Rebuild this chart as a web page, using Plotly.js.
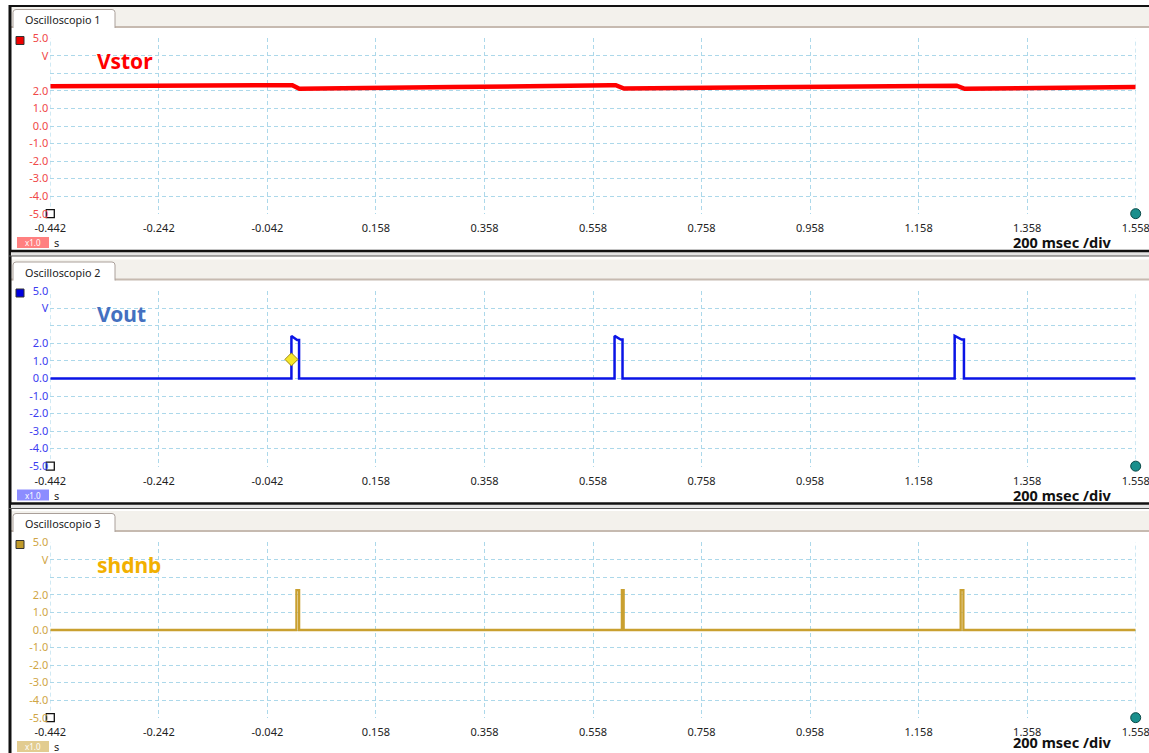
<!DOCTYPE html>
<html><head><meta charset="utf-8">
<script src="https://cdn.plot.ly/plotly-3.0.1.min.js"></script>
<style>html,body{margin:0;padding:0;background:#fff;overflow:hidden}#chart{width:1149px;height:753px}</style>
</head><body><div id="chart"></div>
<script>
// ---------- data ----------
const panelNames = ['Oscilloscopio 1', 'Oscilloscopio 2', 'Oscilloscopio 3'];
const signalNames = ['Vstor', 'Vout', 'shdnb'];
const xTickVals = [-0.442, -0.242, -0.042, 0.158, 0.358, 0.558, 0.758, 0.958, 1.158, 1.358, 1.558];
const xTickLabels = ['-0.442', '-0.242', '-0.042', '0.158', '0.358', '0.558', '0.758', '0.958', '1.158', '1.358', '1.558'];
const yTickVals = [-5, -4, -3, -2, -1, 0, 1, 2, 3, 4, 5];
const yTickLabels = ['-5.0', '-4.0', '-3.0', '-2.0', '-1.0', '0.0', '1.0', '2.0', '', 'V', '5.0'];
const xRange = [-0.442, 1.558];
const timeUnit = 's';
const scaleLabel = '200 msec /div';
const gainLabel = 'x1.0';

const vstorT = [-0.442, -0.2, -0.02, 0.004, 0.017, 0.06, 0.3, 0.59, 0.600, 0.615, 0.66, 0.9, 1.215, 1.228, 1.243, 1.29, 1.558];
const vstorV = [2.27, 2.29, 2.33, 2.33, 2.13, 2.14, 2.22, 2.33, 2.33, 2.14, 2.15, 2.22, 2.30, 2.30, 2.12, 2.13, 2.22];

const voutT = [-0.442, 0.0023, 0.0023, 0.0128, 0.0164, 0.0164, 0.5977, 0.5977, 0.609, 0.6124, 0.6124, 1.2244, 1.2244, 1.2375, 1.2415, 1.2415, 1.558];
const voutV = [0, 0, 2.43, 2.2, 2.2, 0, 0, 2.43, 2.22, 2.22, 0, 0, 2.43, 2.22, 2.22, 0, 0];

const shdnbT = [-0.442, 0.0115, 0.0115, 0.0165, 0.0165, 0.6112, 0.6112, 0.6145, 0.6145, 1.2355, 1.2355, 1.2405, 1.2405, 1.558];
const shdnbV = [0, 0, 2.28, 2.28, 0, 0, 2.28, 2.28, 0, 0, 2.28, 2.28, 0, 0];

const cursorT = [0.0023];
const cursorV = [1.09];
const startMarkerT = [-0.442], startMarkerV = [-5];
const endMarkerT = [1.558], endMarkerV = [-5];

// ---------- styling ----------
const W = 1149, H = 753;
const px = x => x / W;
const py = y => 1 - y / H;
const offsets = [0, 252.5, 504];
const lineColors = ['#ff0000', '#0a14e6', '#c9a030'];
const titleColors = ['#ff0000', '#4470c0', '#f2b000'];
const tickColors = ['#f04848', '#3c3cf0', '#d0a545'];
const squareColors = ['#ee0000', '#0000e0', '#c09a2a'];
const badgeColors = ['#ff8080', '#8c8cff', '#e2cc90'];
const lineWidths = [4.5, 2.5, 2.3];
const seriesT = [vstorT, voutT, shdnbT];
const seriesV = [vstorV, voutV, shdnbV];
const FONT = 'Noto Sans, Open Sans, sans-serif';
const GRID = '#acd8ea';
const GRIDDASH = '4px,3px';

const data = [];
const layout = {
  width: W, height: H, autosize: false,
  margin: {l: 0, r: 0, t: 0, b: 0, pad: 0},
  paper_bgcolor: '#ffffff', plot_bgcolor: 'rgba(0,0,0,0)',
  showlegend: false, hovermode: false,
  shapes: [], annotations: []
};

for (let i = 0; i < 3; i++) {
  const o = offsets[i];
  const xa = i === 0 ? 'x' : 'x' + (i + 1);
  const ya = i === 0 ? 'y' : 'y' + (i + 1);
  const xk = i === 0 ? 'xaxis' : 'xaxis' + (i + 1);
  const yk = i === 0 ? 'yaxis' : 'yaxis' + (i + 1);
  const top = 38 + o, bot = 214 + o;

  layout[xk] = {
    domain: [px(50.3), px(1135.7)], range: xRange, anchor: ya,
    tickmode: 'array', tickvals: xTickVals, ticktext: xTickLabels, ticklabeloverflow: 'allow',
    showgrid: true, gridcolor: GRID, griddash: GRIDDASH, gridwidth: 1,
    zeroline: false, showline: false, ticks: 'outside', ticklen: 4, tickcolor: 'rgba(0,0,0,0)',
    tickfont: {family: FONT, size: 11, color: '#222'}, fixedrange: true
  };
  layout[yk] = {
    domain: [py(bot), py(top)], range: [-5.02, 5.02], anchor: xa,
    tickmode: 'array', tickvals: yTickVals, ticktext: yTickLabels,
    showgrid: true, gridcolor: GRID, griddash: GRIDDASH, gridwidth: 1,
    zeroline: false, showline: false, ticks: '', ticklabelstandoff: 1,
    tickfont: {family: FONT, size: 11, color: tickColors[i]}, fixedrange: true
  };

  // vertical grid lines at the range edges
  xRange.forEach(xv => {
    layout.shapes.push({type: 'line', xref: xa, yref: ya, layer: 'below', x0: xv, x1: xv, y0: -5, y1: 5,
      line: {color: GRID, width: 1, dash: GRIDDASH}});
  });

  data.push({
    x: seriesT[i], y: seriesV[i], xaxis: xa, yaxis: ya, type: 'scatter', mode: 'lines',
    line: {color: lineColors[i], width: lineWidths[i]}, name: signalNames[i]
  });
  data.push({
    x: startMarkerT, y: startMarkerV, xaxis: xa, yaxis: ya, type: 'scatter', mode: 'markers', cliponaxis: false,
    marker: {symbol: 'square', size: 8, color: '#ffffff', line: {color: '#111', width: 1.3}}
  });
  data.push({
    x: endMarkerT, y: endMarkerV, xaxis: xa, yaxis: ya, type: 'scatter', mode: 'markers', cliponaxis: false,
    marker: {symbol: 'circle', size: 10, color: '#1a8f8c', line: {color: '#0b4a48', width: 1}}
  });
  if (i === 1) {
    data.push({
      x: cursorT, y: cursorV, xaxis: xa, yaxis: ya, type: 'scatter', mode: 'markers', cliponaxis: false,
      marker: {symbol: 'diamond', size: 10, color: '#f5e62a', line: {color: '#a08a10', width: 1}}
    });
  }

  // header bar
  layout.shapes.push({type: 'rect', xref: 'paper', yref: 'paper', layer: 'below',
    x0: px(11), x1: px(W), y0: py(27 + o), y1: py(7 + o), fillcolor: '#f3f1ec', line: {width: 0}});
  layout.shapes.push({type: 'line', xref: 'paper', yref: 'paper', layer: 'below',
    x0: px(11), x1: px(W), y0: py(27 + o), y1: py(27 + o), line: {color: '#c6bab0', width: 2}});
  // tab
  layout.shapes.push({type: 'rect', xref: 'paper', yref: 'paper', layer: 'below',
    x0: px(13), x1: px(115), y0: py(29 + o), y1: py(9.5 + o), fillcolor: '#ffffff', line: {width: 0}});
  layout.shapes.push({type: 'path', xref: 'paper', yref: 'paper', layer: 'below',
    path: `M ${px(13)} ${py(28 + o)} L ${px(13)} ${py(12.5 + o)} Q ${px(13)} ${py(9.5 + o)} ${px(16)} ${py(9.5 + o)} L ${px(112)} ${py(9.5 + o)} Q ${px(115)} ${py(9.5 + o)} ${px(115)} ${py(12.5 + o)} L ${px(115)} ${py(28 + o)}`,
    line: {color: '#aaa09a', width: 1}});
  layout.annotations.push({xref: 'paper', yref: 'paper', x: px(63), y: py(19.5 + o), xanchor: 'center', yanchor: 'middle',
    text: panelNames[i], showarrow: false, font: {family: FONT, size: 10.8, color: '#222'}});
  // legend square
  layout.shapes.push({type: 'rect', xref: 'paper', yref: 'paper',
    x0: px(16), x1: px(24), y0: py(44.5 + o), y1: py(36.5 + o), fillcolor: squareColors[i], line: {color: '#333', width: 1}});
  // signal title
  layout.annotations.push({xref: 'paper', yref: 'paper', x: px(95), y: py(61 + o), xanchor: 'left', yanchor: 'middle',
    text: '<b>' + signalNames[i] + '</b>', showarrow: false, font: {family: FONT, size: 21, color: titleColors[i]}});
  // gain badge
  layout.shapes.push({type: 'rect', xref: 'paper', yref: 'paper',
    x0: px(17), x1: px(49), y0: py(248 + o), y1: py(237 + o), fillcolor: badgeColors[i], line: {width: 0}});
  layout.annotations.push({xref: 'paper', yref: 'paper', x: px(33), y: py(242.5 + o), xanchor: 'center', yanchor: 'middle',
    text: gainLabel, showarrow: false, font: {family: FONT, size: 8, color: '#ffffff'}});
  layout.annotations.push({xref: 'paper', yref: 'paper', x: px(52), y: py(242.5 + o), xanchor: 'left', yanchor: 'middle',
    text: timeUnit, showarrow: false, font: {family: FONT, size: 11, color: '#222'}});
  // scale label
  layout.annotations.push({xref: 'paper', yref: 'paper', x: px(1062), y: py(Math.min(253.5 + o, H)), xanchor: 'center', yanchor: 'bottom',
    borderpad: 0, text: '<b>' + scaleLabel + '</b>', showarrow: false, font: {family: FONT, size: 14.5, color: '#111'}});
}

// frame lines
layout.shapes.push({type: 'line', xref: 'paper', yref: 'paper', x0: px(10), x1: px(10), y0: py(5), y1: py(H), line: {color: '#111', width: 3}});
layout.shapes.push({type: 'line', xref: 'paper', yref: 'paper', x0: px(9), x1: px(W), y0: py(6), y1: py(6), line: {color: '#111', width: 2}});
[251, 503.5].forEach(y => {
  layout.shapes.push({type: 'rect', xref: 'paper', yref: 'paper', x0: px(11), x1: px(W), y0: py(y + 5), y1: py(y + 1), fillcolor: '#e4e4e4', line: {width: 0}});
  layout.shapes.push({type: 'line', xref: 'paper', yref: 'paper', x0: px(9), x1: px(W), y0: py(y), y1: py(y), line: {color: '#111', width: 2.5}});
  layout.shapes.push({type: 'line', xref: 'paper', yref: 'paper', x0: px(9), x1: px(W), y0: py(y + 5), y1: py(y + 5), line: {color: '#555', width: 1}});
});

Plotly.newPlot('chart', data, layout, {staticPlot: true, displayModeBar: false});
</script>
</body></html>
